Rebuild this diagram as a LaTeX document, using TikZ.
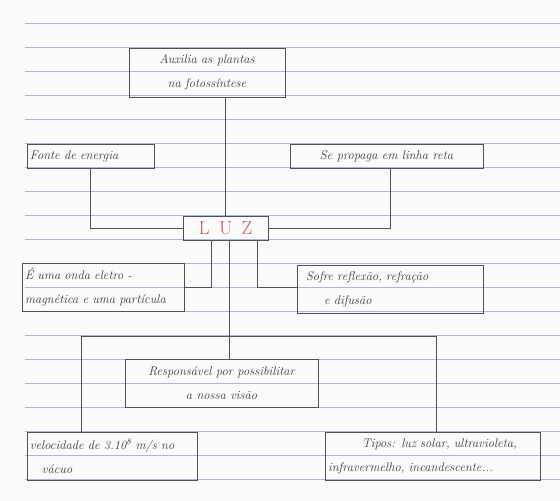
\documentclass[tikz,border=0pt]{standalone}
\usepackage{fontspec}
\definecolor{rule}{HTML}{A4B8E6}
\definecolor{ink}{HTML}{3C3C44}
\definecolor{redink}{HTML}{D85A6E}
\begin{document}
\begin{tikzpicture}[x=1pt,y=-1pt,
  pen/.style={draw=ink!90, line width=0.9pt},
  concept/.style={pen, inner sep=2pt, font=\fontsize{12.5}{24}\selectfont\itshape, text=ink},
  link/.style={pen, line cap=round},
  ruling/.style={draw=rule, line width=0.8pt}]
  % sheet of ruled paper
  \fill[black!2] (0,0) rectangle (560,501);
  \useasboundingbox (0,0) rectangle (560,501);
  \foreach \k in {0,...,19}
    \draw[ruling] (25,{23+24*\k}) -- (560,{23+24*\k});

  % concepts
  \node[concept, minimum width=156pt, minimum height=49pt, align=center]
    (plantas) at (207,72.5) {Auxilia as plantas\\na fotossíntese};
  \node[concept, minimum width=127pt, minimum height=24pt, align=left, text width=121pt]
    (fonte) at (90.5,156) {Fonte de energia};
  \node[concept, minimum width=193pt, minimum height=24pt, align=center]
    (reta) at (386.5,156) {Se propaga em linha reta};
  \node[pen, minimum width=85pt, minimum height=24pt, inner sep=0pt,
        font=\fontsize{19}{19}\selectfont, text=redink]
    (luz) at (225.5,228) {L\,\,\,U\,\,\,Z};
  \node[concept, minimum width=162pt, minimum height=48pt, align=left, text width=156pt]
    (onda) at (103,287) {É uma onda eletro -\\magnética e uma partícula};
  \node[concept, minimum width=186pt, minimum height=48pt, align=left, text width=176pt]
    (sofre) at (390,289) {\hspace*{4pt}Sofre reflexão, refração\\\hspace*{22pt}e difusão};
  \node[concept, minimum width=193pt, minimum height=48pt, align=center]
    (visao) at (221.5,383) {Responsável por possibilitar\\a nossa visão};
  \node[concept, minimum width=170pt, minimum height=48pt, align=left, text width=164pt]
    (veloc) at (112,456) {velocidade de 3.10\textsuperscript{8} m/s no\\\hspace*{12pt}vácuo};
  \node[concept, minimum width=215pt, minimum height=48pt, align=left, text width=209pt]
    (tipos) at (432.5,456) {\hspace*{34pt}Tipos: luz solar, ultravioleta,\\infravermelho, incandescente...};

  % junction points below the central concept
  \coordinate (jl) at (81,336);
  \coordinate (jr) at (436,336);

  % connectors
  \draw[link] (plantas.south -| luz.north) -- (luz.north);
  \draw[link] (fonte.south) |- (luz.west);
  \draw[link] (reta.south -| 390,0) |- (luz.east);
  \draw[link] (luz.south -| 211,0) |- (onda.east |- 0,287);
  \draw[link] (luz.south -| 257,0) |- (sofre.west |- 0,287);
  \draw[link] (luz.south -| 229,0) -- (visao.north -| 229,0);
  \draw[link] (jl) -- (jr);
  \draw[link] (jl) -- (veloc.north -| jl);
  \draw[link] (jr) -- (tipos.north -| jr);
\end{tikzpicture}
\end{document}
